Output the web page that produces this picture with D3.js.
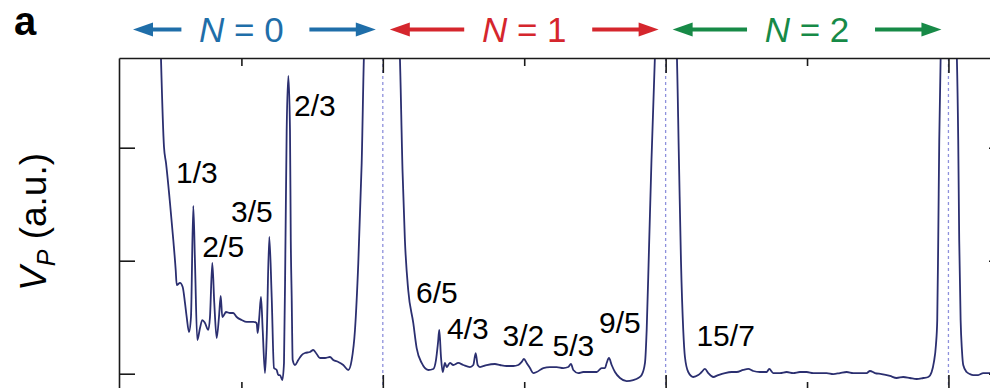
<!DOCTYPE html>
<html><head><meta charset="utf-8">
<script src="https://cdn.jsdelivr.net/npm/d3@7"></script>
<style>body{margin:0;background:#fff}svg{display:block}</style>
</head><body>
<svg id="chart" width="990" height="388"></svg>
<script>
// ---- data (filling factor nu, V_P in a.u.) ----
const traceNu = [0.2139,0.2263,0.2334,0.2475,0.2592,0.2677,0.2712,0.2829,0.2924,0.3005,0.3065,0.3147,0.3217,0.3299,0.3359,0.3440,0.3536,0.3617,0.3712,0.3829,0.3889,0.3971,0.4041,0.4126,0.4207,0.4268,0.4324,0.4384,0.4455,0.4596,0.4713,0.4833,0.5010,0.5187,0.5420,0.5540,0.5576,0.5632,0.5692,0.5753,0.5834,0.5894,0.5986,0.6071,0.6152,0.6248,0.6304,0.6364,0.6446,0.6506,0.6559,0.6601,0.6661,0.6718,0.6746,0.6778,0.6813,0.6895,0.7011,0.7132,0.7248,0.7425,0.7542,0.7662,0.7779,0.7955,0.8132,0.8249,0.8426,0.8602,0.8779,0.8899,0.9016,0.9133,0.9253,0.9352,1.0000,
1.0582,1.0700,1.0781,1.0898,1.1077,1.1197,1.1374,1.1608,1.1784,1.1880,1.1951,1.1997,1.2057,1.2117,1.2198,1.2258,1.2375,1.2492,1.2668,1.2845,1.3082,1.3199,1.3284,1.3354,1.3436,1.3673,1.3966,1.4143,1.4380,1.4613,1.4790,1.4910,1.4991,1.5087,1.5203,1.5320,1.5440,1.5674,1.5911,1.6147,1.6381,1.6558,1.6653,1.6735,1.6911,1.7088,1.7325,1.7562,1.7739,1.7855,1.7915,1.7997,1.8092,1.8209,1.8386,1.8623,1.8856,1.9033,1.9153,1.9270,1.9330,1.9411,1.9500,1.9641,2.0000,
2.0383,2.0471,2.0542,2.0623,2.0683,2.0800,2.0977,2.1154,2.1274,2.1391,2.1507,2.1684,2.1861,2.2098,2.2335,2.2512,2.2745,2.2922,2.3099,2.3336,2.3572,2.3664,2.3806,2.4043,2.4279,2.4513,2.4750,2.4987,2.5220,2.5457,2.5694,2.5927,2.6164,2.6401,2.6634,2.6871,2.7108,2.7225,2.7401,2.7638,2.7932,2.8169,2.8402,2.8639,2.8876,2.9109,2.9286,2.9406,2.9487,2.9558,2.9604,2.9639,2.9675,2.9735,3.0000,
3.0282,3.0346,3.0381,3.0431,3.0477,3.0523,3.0643,3.0760,3.0876,3.1053,3.1230,3.1467,3.1821];
const traceV = [2.953,2.006,1.865,1.511,1.183,0.918,0.785,0.803,0.767,0.626,0.502,0.369,0.502,1.484,0.980,0.298,0.404,0.475,0.449,0.387,0.502,0.980,0.626,0.316,0.502,0.688,0.502,0.519,0.546,0.537,0.537,0.502,0.475,0.458,0.458,0.449,0.360,0.502,0.679,0.387,0.006,0.325,1.210,0.679,0.050,0.033,-0.012,-0.012,-0.056,0.095,1.183,2.157,2.635,2.157,1.183,0.679,0.121,0.077,0.121,0.165,0.183,0.192,0.210,0.174,0.139,0.139,0.148,0.121,0.104,0.077,0.033,0.121,0.387,0.980,1.865,2.953,4.2,
2.953,1.776,1.183,0.741,0.449,0.227,0.095,0.033,0.042,0.121,0.272,0.387,0.148,0.015,0.095,0.059,0.095,0.077,0.095,0.077,0.059,0.077,0.183,0.077,0.059,0.077,0.086,0.077,0.068,0.068,0.077,0.104,0.130,0.095,0.050,0.006,0.015,0.050,0.059,0.059,0.050,0.059,0.086,0.033,0.006,0.015,0.015,0.015,0.050,0.050,0.095,0.139,0.077,0.015,-0.038,-0.065,-0.056,-0.038,-0.012,0.095,0.387,1.095,1.891,2.953,4.2,
2.953,1.891,1.006,0.387,0.148,0.015,-0.029,-0.012,0.015,0.042,0.006,-0.029,-0.012,0.006,0.015,0.015,0.033,0.042,0.024,0.015,0.015,0.042,0.006,0.006,0.015,0.006,0.015,0.015,0.006,0.006,0.006,-0.003,0.006,0.015,0.006,0.006,0.006,0.024,0.006,-0.003,-0.020,-0.038,-0.029,-0.038,-0.047,-0.038,-0.029,0.015,0.104,0.254,0.475,1.183,2.068,2.953,4.2,
2.953,2.068,1.183,0.475,0.210,0.077,0.015,-0.003,-0.012,-0.012,0.006,0.006,-0.003];

const levelNames = ["0", "1", "2"];
const levelBoundaries = [1, 2, 3];
const fractionLabels = ["1/3", "2/5", "3/5", "2/3", "6/5", "4/3", "3/2", "5/3", "9/5", "15/7"];
const fractionNu = [0.2690, 0.3620, 0.4635, 0.6860, 1.1175, 1.2270, 1.4235, 1.6000, 1.7645, 2.1090];
const fractionV = [1.690, 1.035, 1.345, 2.281, 0.630, 0.307, 0.245, 0.157, 0.360, 0.241];
const xMinorTicks = [0.5, 1.5, 2.5];
const xMajorTicks = [1, 2, 3];
const yTicks = [0, 1, 2];

// ---- styles ----
const levelColors = ["#1f6ea9", "#d5262d", "#178a47"];
const traceColor = "#2b2f70";
const font = "'Liberation Sans', Arial, Helvetica, sans-serif";

const plot = {left: 119, top: 58, right: 1005, bottom: 390};
const x = d3.scaleLinear().domain([0.0672, 3.2]).range([plot.left, plot.right]);
const y = d3.scaleLinear().domain([-0.1442, 2.7938]).range([plot.bottom, plot.top]);

const svg = d3.select("#chart");
svg.append("defs").append("clipPath").attr("id", "clip")
  .append("rect").attr("x", plot.left).attr("y", plot.top)
  .attr("width", plot.right - plot.left).attr("height", plot.bottom - plot.top);

// dashed level boundaries
svg.append("g").selectAll("line").data(levelBoundaries).join("line")
  .attr("x1", d => x(d)).attr("x2", d => x(d))
  .attr("y1", plot.top).attr("y2", plot.bottom)
  .attr("stroke", "#8e91dc").attr("stroke-width", 1.3)
  .attr("stroke-dasharray", "3,3");

// trace
const pts = traceNu.map((n, i) => [n, traceV[i]]);
svg.append("path").datum(pts)
  .attr("clip-path", "url(#clip)")
  .attr("d", d3.line().curve(d3.curveMonotoneX).x(d => x(d[0])).y(d => y(d[1])))
  .attr("fill", "none").attr("stroke", traceColor)
  .attr("stroke-width", 1.8).attr("stroke-linejoin", "round");

// axes
function styleAxis(g, keepDomain) {
  g.selectAll("text").remove();
  g.selectAll("line").attr("stroke", "#1a1a1a").attr("stroke-width", 1.6);
  g.select(".domain").attr("stroke", keepDomain ? "#1a1a1a" : "none").attr("stroke-width", 1.6);
}
svg.append("g").attr("transform", `translate(0,${plot.top})`)
  .call(d3.axisBottom(x).tickValues(xMinorTicks).tickSize(8).tickSizeOuter(0))
  .call(g => styleAxis(g, true));
svg.append("g").attr("transform", `translate(0,${plot.top})`)
  .call(d3.axisBottom(x).tickValues(xMajorTicks).tickSize(15).tickSizeOuter(0))
  .call(g => styleAxis(g, false));
svg.append("g").attr("transform", `translate(0,${plot.bottom})`)
  .call(d3.axisTop(x).tickValues(xMinorTicks).tickSize(8).tickSizeOuter(0))
  .call(g => styleAxis(g, true));
svg.append("g").attr("transform", `translate(0,${plot.bottom})`)
  .call(d3.axisTop(x).tickValues(xMajorTicks).tickSize(15).tickSizeOuter(0))
  .call(g => styleAxis(g, false));
svg.append("g").attr("transform", `translate(${plot.left},0)`)
  .call(d3.axisRight(y).tickValues(yTicks).tickSize(16).tickSizeOuter(0))
  .call(g => styleAxis(g, true));
svg.append("g").attr("transform", `translate(${plot.right},0)`)
  .call(d3.axisLeft(y).tickValues(yTicks).tickSize(16).tickSizeOuter(0))
  .call(g => styleAxis(g, true));

// fraction labels
svg.append("g").selectAll("text").data(fractionLabels).join("text")
  .attr("x", (d, i) => x(fractionNu[i])).attr("y", (d, i) => y(fractionV[i]))
  .attr("font-family", font).attr("font-size", 30).attr("fill", "#000")
  .text(d => d);

// y label
const yl = svg.append("text")
  .attr("transform", "translate(46,222) rotate(-90)")
  .attr("text-anchor", "middle").attr("font-family", font).attr("font-size", 37).attr("fill", "#000");
yl.append("tspan").attr("font-style", "italic").text("V");
yl.append("tspan").attr("font-style", "italic").attr("font-size", 25).attr("dy", 9).text("P");
yl.append("tspan").attr("dy", -9).text(" (a.u.)");

// panel letter
svg.append("text").attr("x", 14).attr("y", 35).attr("font-family", font)
  .attr("font-weight", "bold").attr("font-size", 40).text("a");

// level headers with arrows
const arrowY = 29.5;
levelNames.forEach((name, k) => {
  const c = x(k + 0.5);
  const col = levelColors[k];
  const g = svg.append("g");
  const t = g.append("text").attr("x", c).attr("y", 42).attr("text-anchor", "middle")
    .attr("font-family", font).attr("font-size", 35).attr("fill", col);
  t.append("tspan").attr("font-style", "italic").text("N");
  t.append("tspan").text(" = " + name);
  const lTip = Math.max(x(k) + 7, plot.left + 14), lTail = c - 60;
  const rTail = c + 68, rTip = x(k + 1) - 7;
  const hl = 20, hw = 7;
  g.append("line").attr("x1", lTip + hl - 2).attr("x2", lTail).attr("y1", arrowY).attr("y2", arrowY)
    .attr("stroke", col).attr("stroke-width", 4);
  g.append("path").attr("d", `M${lTip},${arrowY}L${lTip + hl},${arrowY - hw}L${lTip + hl},${arrowY + hw}Z`).attr("fill", col);
  g.append("line").attr("x1", rTail).attr("x2", rTip - hl + 2).attr("y1", arrowY).attr("y2", arrowY)
    .attr("stroke", col).attr("stroke-width", 4);
  g.append("path").attr("d", `M${rTip},${arrowY}L${rTip - hl},${arrowY - hw}L${rTip - hl},${arrowY + hw}Z`).attr("fill", col);
});
</script>
</body></html>
